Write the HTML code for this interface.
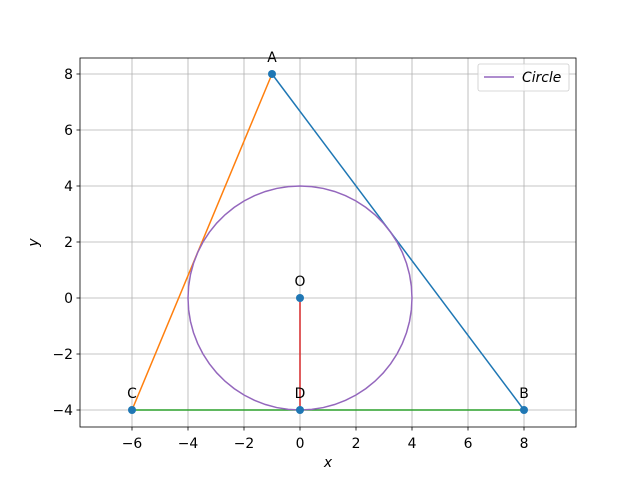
<!DOCTYPE html>
<html><head><meta charset="utf-8"><style>
body{margin:0;background:#fff}
svg{display:block;font-family:"DejaVu Sans","Liberation Sans",sans-serif}
</style></head><body>
<svg id="chart" width="640" height="480" viewBox="0 0 640 480">
<rect width="640" height="480" fill="#fff"/>
<g id="grid"></g>
<g id="marks"></g>
<g id="axes"></g>
</svg>
<script>
const pointNames=["A","B","C","O","D"];
const pointX=[-1,8,-6,0,0];
const pointY=[8,-4,-4,0,-4];
const circleCenter=[0,0];
const circleRadius=[4];
const xTicks=[-6,-4,-2,0,2,4,6,8];
const yTicks=[-4,-2,0,2,4,6,8];
const L=80,R=576,T=58,B=427;
const xmin=-7.857,xmax=9.857,ymin=-4.607,ymax=8.571;
const sx=v=>L+(v-xmin)/(xmax-xmin)*(R-L);
const sy=v=>B-(v-ymin)/(ymax-ymin)*(B-T);
const FS=13.9;
const NS="http://www.w3.org/2000/svg";
function mk(tag,parent,attrs){const e=document.createElementNS(NS,tag);for(const k in attrs)e.setAttribute(k,attrs[k]);parent.appendChild(e);return e;}
const grid=document.getElementById('grid'),marks=document.getElementById('marks'),axes=document.getElementById('axes');
xTicks.forEach(t=>{const x=sx(t);
 let g=mk('line',grid,{x1:x,x2:x,y1:T,y2:B,stroke:'#b0b0b0','stroke-width':0.8});
 
 
 let k=mk('line',axes,{x1:x,x2:x,y1:B,y2:B+3.5,stroke:'#000','stroke-width':0.8});
 
 
 let l=mk('text',axes,{x:x,y:B+21,'text-anchor':'middle','font-size':FS});l.textContent=(t<0?'\u2212'+(-t):t);
 
 
});
yTicks.forEach(t=>{const y=sy(t);
 let g=mk('line',grid,{x1:L,x2:R,y1:y,y2:y,stroke:'#b0b0b0','stroke-width':0.8});
 
 
 let k=mk('line',axes,{x1:L-3.5,x2:L,y1:y,y2:y,stroke:'#000','stroke-width':0.8});
 
 
 let l=mk('text',axes,{x:L-7,y:y+5,'text-anchor':'end','font-size':FS});l.textContent=(t<0?'\u2212'+(-t):t);
 
 
});
function seg(i,j,c,name){let e=mk('line',marks,{x1:sx(pointX[i]),y1:sy(pointY[i]),x2:sx(pointX[j]),y2:sy(pointY[j]),stroke:c,'stroke-width':1.5});
 
 }
seg(0,1,'#1f77b4','line-ab');
seg(0,2,'#ff7f0e','line-ac');
seg(2,1,'#2ca02c','line-cb');
seg(3,4,'#d62728','line-od');
let pts=[];for(let i=0;i<=60;i++){const a=i/60*2*Math.PI;pts.push(sx(circleCenter[0]+circleRadius[0]*Math.cos(a))+','+sy(circleCenter[1]+circleRadius[0]*Math.sin(a)));}
let c=mk('polyline',marks,{points:pts.join(' '),fill:'none',stroke:'#9467bd','stroke-width':1.5});


pointNames.forEach((n,i)=>{
 let d=mk('circle',marks,{cx:sx(pointX[i]),cy:sy(pointY[i]),r:4,fill:'#1f77b4'});
 
 
 let t=mk('text',marks,{x:sx(pointX[i]),y:sy(pointY[i])-12,'text-anchor':'middle','font-size':FS});t.textContent=n;
 
 
});
let fr=mk('rect',axes,{x:L,y:T,width:R-L,height:B-T,fill:'none',stroke:'#000','stroke-width':0.8});


let xl=mk('text',axes,{x:(L+R)/2,y:467,'text-anchor':'middle','font-size':FS,'font-style':'italic'});xl.textContent='x';


let yl=mk('text',axes,{x:38,y:(T+B)/2,'text-anchor':'middle','font-size':FS,'font-style':'italic',transform:'rotate(-90 38 '+(T+B)/2+')'});yl.textContent='y';


let lg=mk('g',axes,{});


mk('rect',lg,{x:478,y:64,width:91,height:27,rx:2,fill:'#fff','fill-opacity':0.8,stroke:'#ccc','stroke-width':0.8});
let ll=mk('line',lg,{x1:484,x2:514,y1:77,y2:77,stroke:'#9467bd','stroke-width':1.5});


let lt=mk('text',lg,{x:522,y:82,'font-size':FS,'font-style':'italic'});lt.textContent='Circle';


</script>
</body></html>
